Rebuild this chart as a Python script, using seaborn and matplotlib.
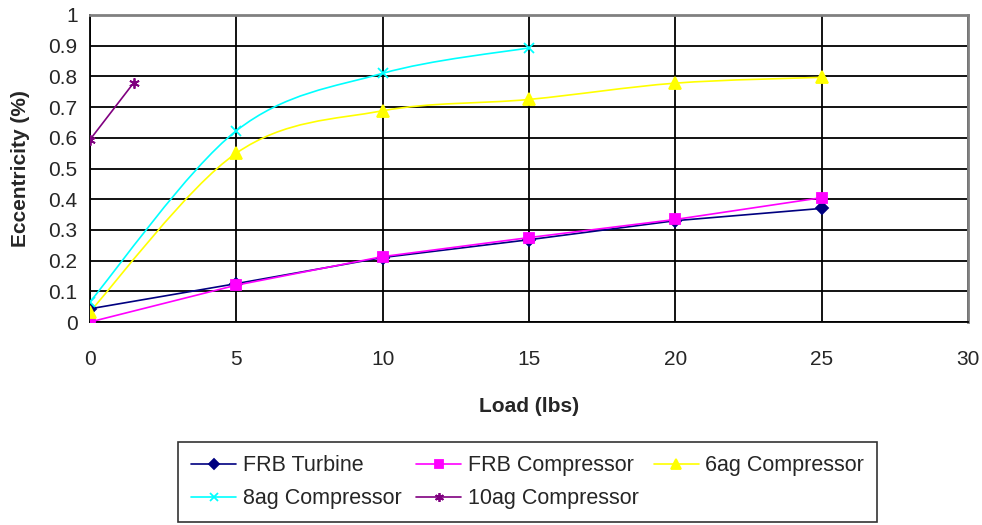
import numpy as np
import matplotlib
matplotlib.use("Agg")
import matplotlib.pyplot as plt
from matplotlib.path import Path
from matplotlib.patches import PathPatch
from matplotlib.lines import Line2D
import seaborn as sns
import pandas as pd

# ---- data ----
load_frb = [0, 5, 10, 15, 20, 25]
frb_turbine = [0.043, 0.125, 0.21, 0.268, 0.330, 0.370]
frb_compressor = [0.0, 0.120, 0.213, 0.275, 0.334, 0.405]
load_6ag = [0, 5, 10, 15, 20, 25]
ag6_compressor = [0.034, 0.550, 0.688, 0.725, 0.778, 0.797]
load_8ag = [0, 5, 10, 15]
ag8_compressor = [0.066, 0.623, 0.810, 0.893]
load_10ag = [0, 1.5]
ag10_compressor = [0.594, 0.780]

series_names = ["FRB Turbine", "FRB Compressor", "6ag Compressor",
                "8ag Compressor", "10ag Compressor"]
x_ticks = [0, 5, 10, 15, 20, 25, 30]
y_ticks = [0, 0.1, 0.2, 0.3, 0.4, 0.5, 0.6, 0.7, 0.8, 0.9, 1]
y_tick_labels = ["0", "0.1", "0.2", "0.3", "0.4", "0.5", "0.6", "0.7", "0.8", "0.9", "1"]

sns.set_theme(style="white")
plt.rcParams['font.family'] = ['Liberation Sans', 'DejaVu Sans']

FS = 15
fig = plt.figure(figsize=(9.82, 5.25), dpi=100)
ax = fig.add_axes([90/982, 1-322/525, (968-90)/982, (322-15)/525])

styles = [
    dict(color="#000080", marker="D", ms=6.5, smooth=False),
    dict(color="#FF00FF", marker="s", ms=7.5, smooth=False),
    dict(color="#FFFF00", marker="^", ms=9, smooth=True),
    dict(color="#00FFFF", marker="x", ms=6.5, smooth=True),
    dict(color="#800080", marker=(6, 2, 0), ms=7.5, smooth=False),
]
datasets = [(load_frb, frb_turbine), (load_frb, frb_compressor),
            (load_6ag, ag6_compressor), (load_8ag, ag8_compressor),
            (load_10ag, ag10_compressor)]


def smooth_path(xs, ys):
    pts = np.column_stack([xs, ys]).astype(float)
    n = len(pts)
    verts = [pts[0]]
    codes = [Path.MOVETO]
    for i in range(n - 1):
        p0 = pts[i - 1] if i > 0 else pts[i]
        p1 = pts[i]
        p2 = pts[i + 1]
        p3 = pts[i + 2] if i + 2 < n else pts[i + 1]
        c1 = p1 + (p2 - p0) / 6.0
        c2 = p2 - (p3 - p1) / 6.0
        verts += [c1, c2, p2]
        codes += [Path.CURVE4] * 3
    return Path(verts, codes)


handles = []
for name, (xs, ys), st in zip(series_names, datasets, styles):
    df = pd.DataFrame({"x": xs, "y": ys})
    if st["smooth"]:
        sns.lineplot(data=df, x="x", y="y", ax=ax, color=st["color"], marker=st["marker"],
                     markersize=st["ms"], linestyle="None", markeredgecolor=st["color"],
                     markeredgewidth=1.3, zorder=4, legend=False)
        patch = PathPatch(smooth_path(xs, ys), facecolor="none", edgecolor=st["color"],
                          lw=1.2, transform=ax.transData, zorder=3)
        ax.add_patch(patch)
    else:
        sns.lineplot(data=df, x="x", y="y", ax=ax, color=st["color"], marker=st["marker"],
                     markersize=st["ms"], linewidth=1.2, markeredgecolor=st["color"],
                     markeredgewidth=1.3, zorder=4, legend=False)
    handles.append(Line2D([], [], color=st["color"], marker=st["marker"], markersize=st["ms"] * 0.85,
                          markeredgecolor=st["color"], markeredgewidth=1.3, lw=1.2, label=name))

ax.set_xlim(0, 30)
ax.set_ylim(0, 1)
ax.set_xticks(x_ticks)
ax.set_xticklabels([str(t) for t in x_ticks], fontsize=FS)
ax.set_yticks(y_ticks)
ax.set_yticklabels(y_tick_labels, fontsize=FS)
ax.grid(True, color="black", lw=1.3)
ax.set_axisbelow(True)
for s in ["left", "bottom"]:
    ax.spines[s].set_color("black")
    ax.spines[s].set_linewidth(1.3)
for s in ["top", "right"]:
    ax.spines[s].set_color("#808080")
    ax.spines[s].set_linewidth(2)
ax.tick_params(axis="both", direction="out", length=4, width=1.2, color="black")
ax.tick_params(axis="x", pad=16)
ax.tick_params(axis="y", pad=5)

ax.set_xlabel("Load (lbs)", fontsize=FS, fontweight="bold", labelpad=20)
ax.set_ylabel("Eccentricity (%)", fontsize=FS, fontweight="bold", labelpad=13)

# column-major fill -> reorder so rows read like the reference
order = [0, 3, 1, 4, 2]
leg = fig.legend(handles=[handles[i] for i in order], loc="lower left", ncol=3, mode="expand",
                 bbox_to_anchor=(178/982, 3/525, 699/982, 80/525), borderaxespad=0,
                 fontsize=15.5, frameon=True, fancybox=False, edgecolor="black",
                 handlelength=2.1, handletextpad=0.3, borderpad=0.6, labelspacing=0.55)
leg.get_frame().set_linewidth(1.2)

fig.savefig("out.png", dpi=100)
